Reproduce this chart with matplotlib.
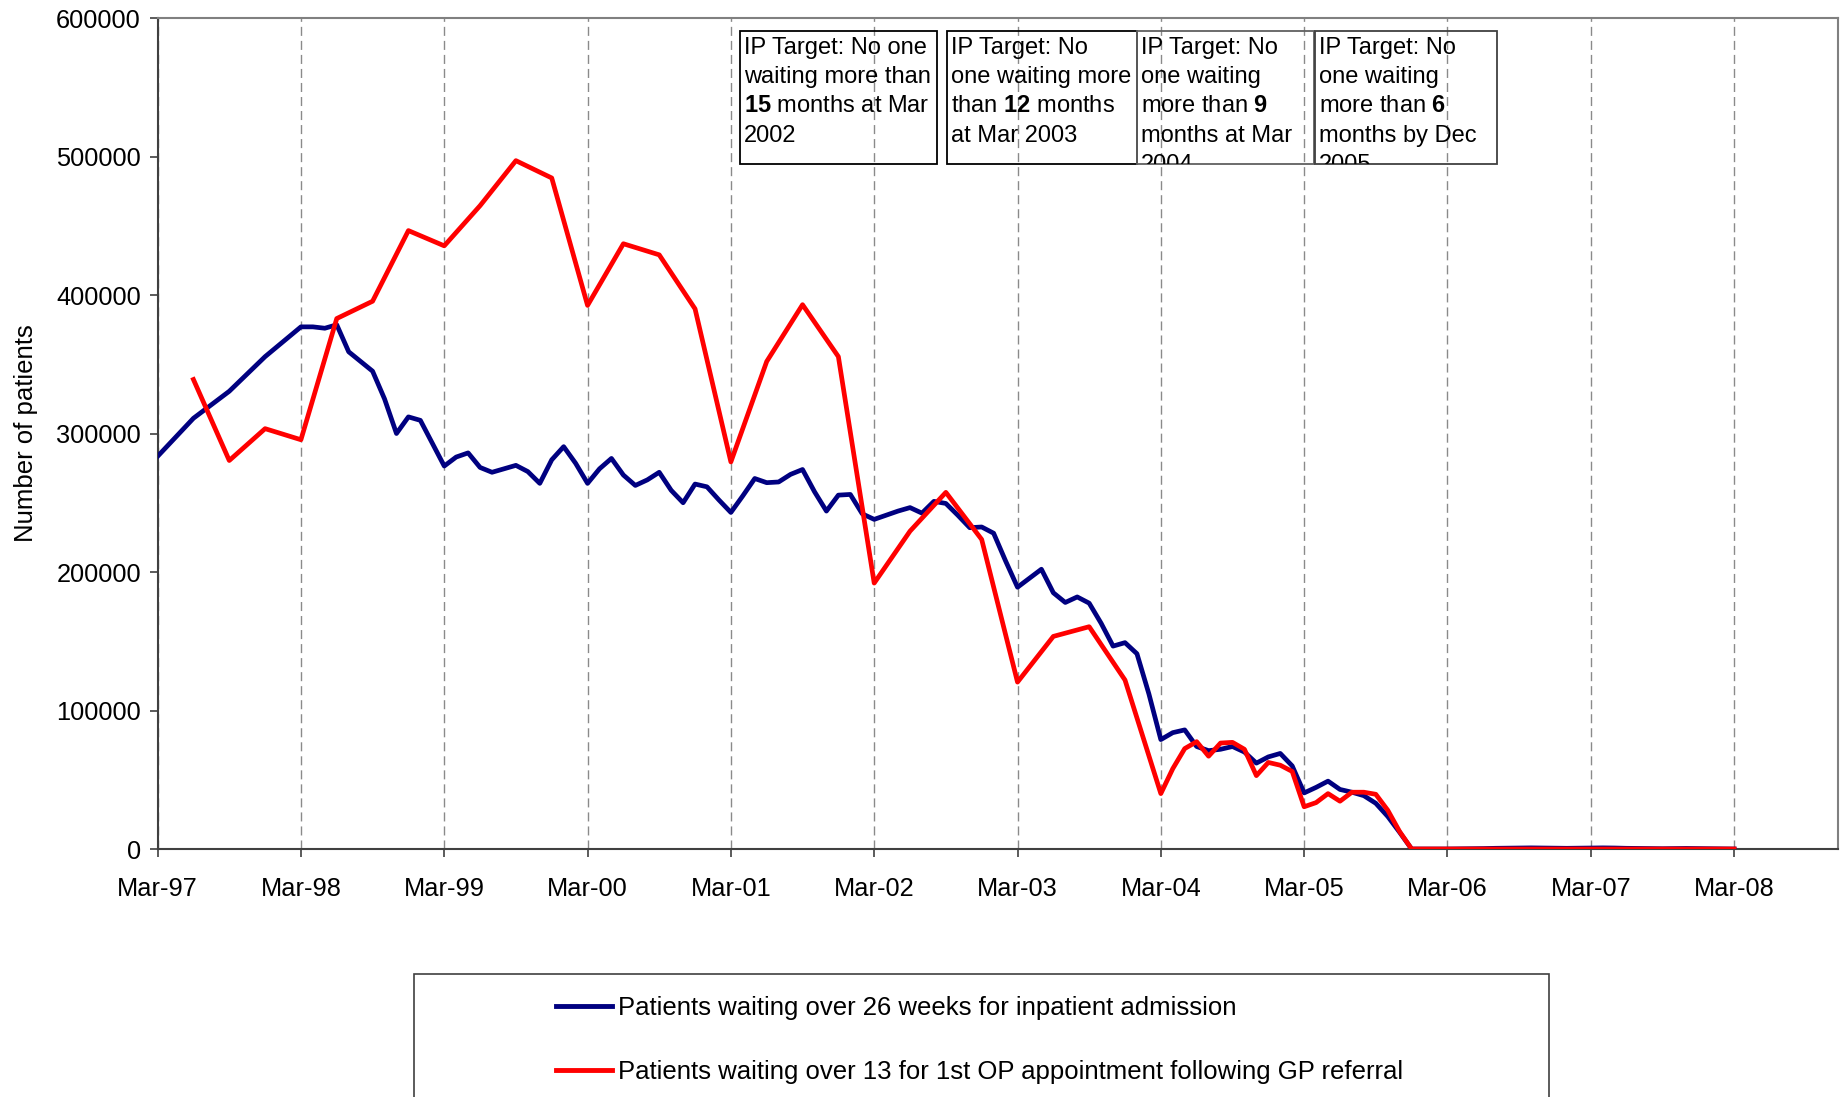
import matplotlib
matplotlib.use("Agg")
import matplotlib.pyplot as plt
from matplotlib.patches import Rectangle
from matplotlib.lines import Line2D
from matplotlib.transforms import Bbox, TransformedBbox
import pandas as pd

plt.rcParams["font.family"] = ["Liberation Sans", "DejaVu Sans"]
plt.rcParams["mathtext.fontset"] = "custom"
plt.rcParams["mathtext.rm"] = "Liberation Sans"
plt.rcParams["mathtext.bf"] = "Liberation Sans:bold"
plt.rcParams["lines.scale_dashes"] = False

# inpatient series: quarterly in 1997, monthly from Mar-98
ip_dates = list(pd.date_range("1997-03-01", "1997-12-01", freq="3MS")) + list(
    pd.date_range("1998-03-01", "2008-03-01", freq="MS")
)
ip_values = (
    [283500, 311000, 330500, 355500]
    # 1998 Mar-Dec
    + [377000, 377000, 376000, 378500, 359000, 352000, 345000, 325000, 300000, 312000]
    # 1999
    + [309500, 293000, 276500, 283000, 286000, 275500, 272000, 274500, 277000, 272500, 264000, 281000]
    # 2000
    + [290500, 278500, 264000, 274500, 282000, 270000, 262500, 266500, 272000, 259000, 250000, 263500]
    # 2001
    + [261500, 252000, 243000, 255000, 267500, 264500, 265000, 270500, 274000, 258000, 244000, 255500]
    # 2002
    + [256000, 242000, 238000, 241000, 244000, 246500, 242500, 251000, 249500, 241000, 232000, 232500]
    # 2003
    + [228000, 208000, 189000, 195500, 202000, 185000, 178000, 182000, 177500, 163000, 146500, 149000]
    # 2004
    + [141000, 112000, 79000, 84000, 86000, 74000, 71000, 72000, 74000, 70000, 62000, 66500]
    # 2005
    + [69000, 60000, 40500, 44500, 49000, 43000, 41000, 38500, 33000, 23500, 12000, 0]
    # 2006
    + [0, 0, 0, 100, 200, 300, 500, 600, 700, 800, 700, 600]
    # 2007
    + [500, 600, 700, 800, 700, 500, 400, 300, 200, 300, 400, 300]
    # 2008 Jan-Mar
    + [200, 100, 0]
)

# outpatient series: quarterly to Dec-03, monthly from Mar-04
op_dates = list(pd.date_range("1997-06-01", "2003-12-01", freq="3MS")) + list(
    pd.date_range("2004-03-01", "2008-03-01", freq="MS")
)
op_values = (
    [339000, 280500, 303500, 295500, 383000, 395500, 446500, 435500, 464500, 497000,
     484500, 392500, 437000, 429000, 390000, 279500, 352000, 393000, 355500, 192000,
     229500, 257500, 223500, 120500, 153500, 160500, 122000]
    # Mar-04 .. Dec-05
    + [40000, 58000, 72500, 77500, 67000, 76500, 77000, 72000, 53000, 62500,
       60500, 56000, 30500, 33500, 40000, 34500, 41000, 41000, 39500, 28000, 12500, 0]
    # Jan-06 .. Mar-08
    + [0] * 27
)

tick_labels = ["Mar-97", "Mar-98", "Mar-99", "Mar-00", "Mar-01", "Mar-02",
               "Mar-03", "Mar-04", "Mar-05", "Mar-06", "Mar-07", "Mar-08"]
y_ticks = [0, 100000, 200000, 300000, 400000, 500000, 600000]

series_labels = [
    "Patients waiting over 26 weeks for inpatient admission",
    "Patients waiting over 13 for 1st OP appointment following GP referral",
]

target_notes = [
    "IP Target: No one\nwaiting more than\n$\\bf{15}$ months at Mar\n2002",
    "IP Target: No\none waiting more\nthan $\\bf{12}$ months\nat Mar 2003",
    "IP Target: No\none waiting\nmore than $\\bf{9}$\nmonths at Mar\n2004",
    "IP Target: No\none waiting\nmore than $\\bf{6}$\nmonths by Dec\n2005",
]


def month_index(dates):
    # months since Mar-97
    return [(d.year - 1997) * 12 + d.month - 3 for d in dates]


fig = plt.figure(figsize=(18.44, 10.97), dpi=100)
ax = fig.add_axes([0.08547, 0.22607, 0.91128, 0.75752])

ax.plot(month_index(ip_dates), ip_values, color="#000080", lw=3.4,
        solid_joinstyle="round", zorder=3)
ax.plot(month_index(op_dates), op_values, color="#ff0000", lw=3.4,
        solid_joinstyle="round", zorder=4)

ax.set_xlim(0, 140.7)
ax.set_ylim(0, 600000)
ax.set_xticks(range(0, 12 * len(tick_labels), 12))
ax.set_xticklabels(tick_labels)
ax.set_yticks(y_ticks)
ax.set_yticklabels([str(v) for v in y_ticks])
ax.tick_params(axis="both", direction="out", length=6, width=1.2,
               color="#404040", labelsize=18.3)
ax.tick_params(axis="x", pad=14)
ax.tick_params(axis="y", pad=6)

ax.grid(axis="x", color="#8a8a8a", lw=1.0, linestyle=(0, (6.5, 3.6)), zorder=1)
ax.set_axisbelow(True)

for side, sp in ax.spines.items():
    sp.set_color("#808080" if side in ("top", "right") else "#404040")
    sp.set_linewidth(1.5)

ax.set_ylabel("Number of patients", fontsize=18.5)
ax.yaxis.set_label_coords(-0.0714, 0.5)

# target boxes (axes fraction): x0, x1; all share top/bottom
box_x = [(0.3466, 0.4638), (0.4698, 0.5828), (0.5828, 0.6879), (0.6888, 0.7971)]
box_edge = ["black", "black", "#606060", "#404040"]
y_top, y_bot = 0.9848, 0.8249
for (x0, x1), note, ec in zip(box_x, target_notes, box_edge):
    rect = Rectangle((x0, y_bot), x1 - x0, y_top - y_bot, transform=ax.transAxes,
                     fill=False, edgecolor=ec, lw=1.3, zorder=5)
    ax.add_patch(rect)
    t = ax.text(x0 + 0.0025, y_top - 0.0075, note, transform=ax.transAxes,
                ha="left", va="top", fontsize=17, linespacing=1.43, zorder=6)
    # the last line runs past the box and is cut off, as in the original
    t.set_clip_box(TransformedBbox(Bbox([[x0, y_bot], [x1, y_top]]), ax.transAxes))
    t.set_clip_on(True)

# legend frame, runs off the bottom of the image
fig.add_artist(Rectangle((0.2245, -0.05), 0.6155, 0.1621, transform=fig.transFigure,
                         fill=False, edgecolor="#404040", lw=1.2))
handles = [Line2D([], [], color="#000080", lw=3.5),
           Line2D([], [], color="#ff0000", lw=3.5)]
fig.legend(handles, series_labels, loc="upper left", bbox_to_anchor=(0.3015, 0.0925),
           frameon=False, fontsize=18.5, handlelength=2.2, handletextpad=0.2,
           labelspacing=1.57, borderpad=0, borderaxespad=0)

fig.savefig("out.png", dpi=100)
